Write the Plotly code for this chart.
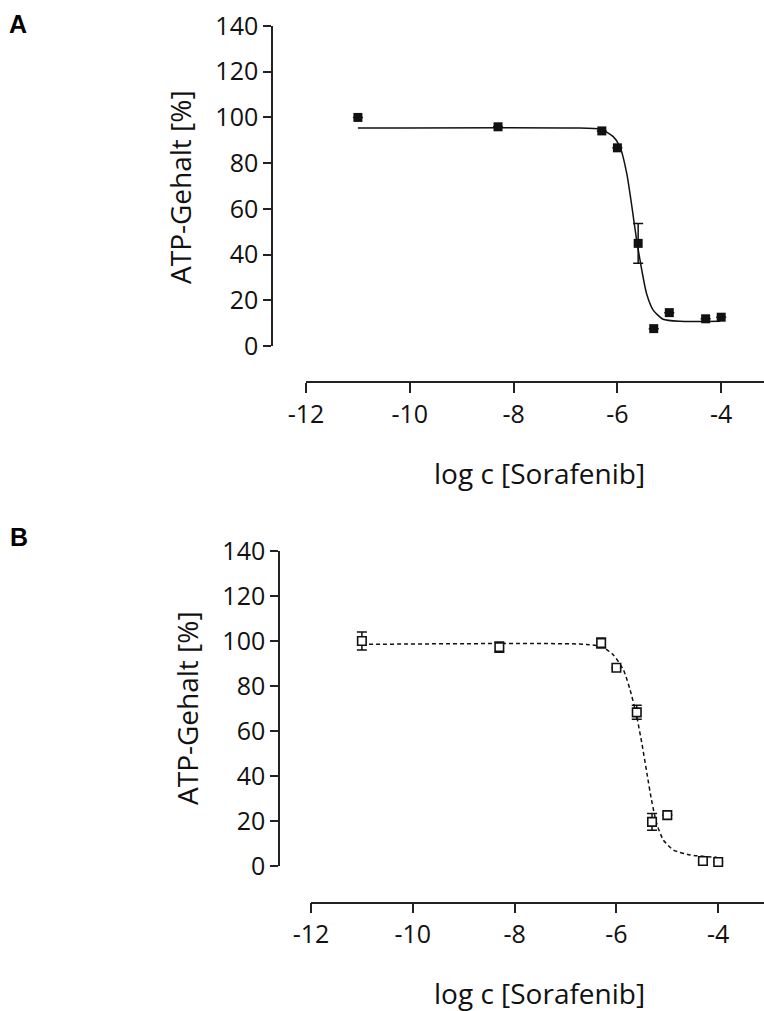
import plotly.graph_objects as go

W, H = 764, 1011

# ---- data ----
log_c = [-11.0, -8.3, -6.3, -6.0, -5.6, -5.3, -5.0, -4.3, -4.0]

atp_a = [100.0, 95.9, 94.1, 86.7, 44.9, 7.6, 14.6, 11.9, 12.6]
err_a = [0.0, 0.0, 0.0, 0.0, 8.7, 0.0, 0.0, 0.0, 0.0]

atp_b = [100.0, 97.3, 99.1, 88.1, 68.3, 19.6, 22.6, 2.2, 1.8]
err_b = [4.0, 2.3, 2.2, 0.0, 3.1, 3.7, 0.0, 0.0, 0.0]

# fitted curves, points
fit_a_x = [-11.0, -6.85, -6.32, -6.08, -5.95, -5.82, -5.72, -5.63, -5.53, -5.44, -5.31, -5.12, -4.79, -4.02]
fit_a_y = [95.4, 95.4, 94.8, 91.6, 87.2, 75.5, 60.9, 46.4, 33.2, 23.1, 15.7, 11.7, 10.8, 10.8]

fit_b_x = [-11.0, -6.58, -6.26, -6.06, -5.86, -5.73, -5.60, -5.50, -5.40, -5.31, -5.21, -5.08, -4.88, -4.55, -4.03]
fit_b_y = [98.5, 98.5, 97.2, 93.8, 87.1, 78.2, 66.4, 54.5, 41.2, 29.3, 19.0, 11.6, 7.1, 4.9, 3.9]

x_ticks = [-12, -10, -8, -6, -4]
x_tick_text = ["-12", "-10", "-8", "-6", "-4"]
y_ticks = [0, 20, 40, 60, 80, 100, 120, 140]

FONT = "Open Sans"
INK = "#111111"


def fx(px):
    return px / W


def fy(py):
    return 1 - py / H


fig = go.Figure()

# Panel A
fig.add_trace(go.Scatter(x=fit_a_x, y=fit_a_y, mode="lines",
                         line=dict(color=INK, width=1.5, shape="spline", smoothing=0.6),
                         xaxis="x", yaxis="y", showlegend=False, hoverinfo="skip"))
fig.add_trace(go.Scatter(x=log_c, y=atp_a, mode="markers",
                         marker=dict(symbol="square", size=9, color=INK),
                         error_y=dict(type="data", array=err_a, color=INK, thickness=1.5, width=5),
                         cliponaxis=False, xaxis="x", yaxis="y", showlegend=False))

# Panel B
fig.add_trace(go.Scatter(x=fit_b_x, y=fit_b_y, mode="lines",
                         line=dict(color=INK, width=1.5, dash="4px,3px", shape="spline", smoothing=0.6),
                         xaxis="x2", yaxis="y2", showlegend=False, hoverinfo="skip"))
fig.add_trace(go.Scatter(x=log_c, y=atp_b, mode="markers",
                         marker=dict(symbol="square", size=8.5, color="white", line=dict(width=1.6, color=INK)),
                         error_y=dict(type="data", array=err_b, color=INK, thickness=1.5, width=5),
                         cliponaxis=False, xaxis="x2", yaxis="y2", showlegend=False))

axis_common = dict(showgrid=False, zeroline=False, showline=True, linecolor="#222222", linewidth=1.5,
                   ticks="outside", tickcolor="#222222", tickwidth=1.5, automargin=False,
                   tickfont=dict(family=FONT, size=25, color=INK))

fig.update_layout(
    template="none",
    width=W, height=H,
    margin=dict(l=0, r=0, t=0, b=0, pad=0, autoexpand=False),
    paper_bgcolor="white", plot_bgcolor="rgba(0,0,0,0)",
    xaxis=dict(domain=[fx(306), 1.0], range=[-12, -12 + (W - 306) / 51.9],
               anchor="free", position=fy(382), tickvals=x_ticks, ticktext=x_tick_text,
               ticklen=10, **axis_common),
    yaxis=dict(domain=[fy(346), fy(26)], range=[0, 140],
               anchor="free", position=fx(272), tickvals=y_ticks, ticklen=8, **axis_common),
    xaxis2=dict(domain=[fx(311), 1.0], range=[-12, -12 + (W - 311) / 50.9],
                anchor="free", position=fy(902.5), tickvals=x_ticks, ticktext=x_tick_text,
                ticklen=10, **axis_common),
    yaxis2=dict(domain=[fy(866), fy(551)], range=[0, 140],
                anchor="free", position=fx(279), tickvals=y_ticks, ticklen=8, **axis_common),
)


def ann(text, xpx, ypx, size, angle=0, bold=False, family=FONT):
    fig.add_annotation(text=f"<b>{text}</b>" if bold else text,
                       x=fx(xpx), y=fy(ypx), xref="paper", yref="paper",
                       showarrow=False, textangle=angle, xanchor="center", yanchor="middle",
                       font=dict(family=family, size=size, color="black" if bold else INK))


ann("A", 18, 24, 25, bold=True, family="Liberation Sans")
ann("B", 19, 537, 25, bold=True, family="Liberation Sans")
ann("ATP-Gehalt [%]", 180, 187, 28, angle=-90)
ann("ATP-Gehalt [%]", 187, 708, 28, angle=-90)
ann("log c [Sorafenib]", 539, 473, 28)
ann("log c [Sorafenib]", 539, 993, 28)

# remove the default 8px page margin so the figure fills the window exactly
fig.write_html("out.html", config={"displayModeBar": False},
               post_script="document.body.style.margin='0';document.body.style.overflow='hidden';")
